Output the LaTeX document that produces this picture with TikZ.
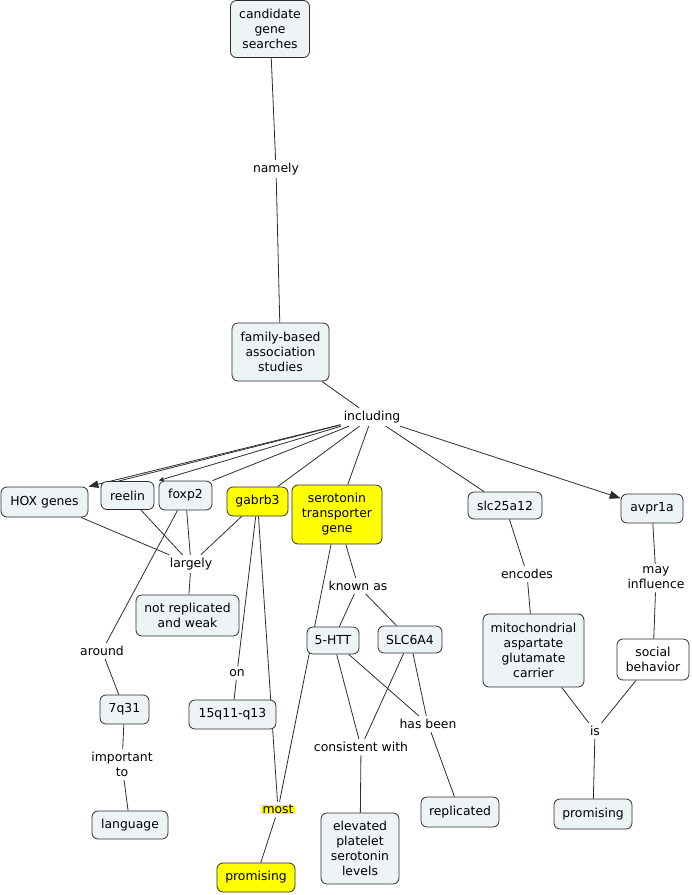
\documentclass[tikz,border=0pt]{standalone}
\usepackage{fontspec}
\setmainfont{DejaVu Sans}
\usetikzlibrary{arrows.meta,backgrounds}
\definecolor{cfill}{RGB}{238,243,246}
\definecolor{cline}{RGB}{45,45,45}
\definecolor{hyel}{RGB}{255,255,0}
\begin{document}
\begin{tikzpicture}[x=1pt,y=-1pt,
  concept/.style={draw=cline, rounded corners=6pt, fill=cfill, align=center,
    font=\fontsize{12.4}{15}\selectfont, inner sep=2pt, line width=0.8pt},
  hot/.style={concept, fill=hyel},
  plain/.style={concept, fill=white},
  lab/.style={align=center, font=\fontsize{12.4}{15}\selectfont, inner sep=3pt},
  conn/.style={draw=cline, line width=0.8pt},
  bigarrow/.style={-{Triangle[length=11pt,width=8pt]}},
  midarrow/.style={-{Triangle[length=10pt,width=7.5pt]}},
  smallarrow/.style={-{Triangle[length=5pt,width=4pt]}}]
\useasboundingbox (0,0) rectangle (692,895);
% concepts and linking phrases
\node[concept, minimum width=79, minimum height=57] (cgs) at (270,29) {candidate\\gene\\searches};
\node[lab] (namely) at (276,169) {namely};
\node[concept, minimum width=97, minimum height=58] (fba) at (280.5,352) {family-based\\association\\studies};
\node[lab] (incl) at (372,417) {including};
\node[concept, minimum width=87, minimum height=30] (hox) at (44.5,502) {HOX genes};
\node[concept, minimum width=53, minimum height=28] (reelin) at (127.5,495.5) {reelin};
\node[concept, minimum width=53, minimum height=29] (foxp2) at (185.5,495.5) {foxp2};
\node[hot, minimum width=61, minimum height=29] (gabrb3) at (257.5,501.5) {gabrb3};
\node[hot, minimum width=90, minimum height=59] (sero) at (337,514.5) {serotonin\\transporter\\gene};
\node[concept, minimum width=74, minimum height=27] (slc25) at (505,505.5) {slc25a12};
\node[concept, minimum width=62, minimum height=29] (avpr) at (652,508.5) {avpr1a};
\node[lab] (largely) at (191,564) {largely};
\node[concept, minimum width=103, minimum height=41] (notrep) at (187.5,615.5) {not replicated\\and weak};
\node[lab] (known) at (358,586) {known as};
\node[lab] (encodes) at (527,574) {encodes};
\node[lab] (mayinf) at (656,578) {may\\influence};
\node[concept, minimum width=52, minimum height=27] (htt) at (333,640.5) {5-HTT};
\node[concept, minimum width=64, minimum height=27] (slc6) at (410,639.5) {SLC6A4};
\node[concept, minimum width=101, minimum height=73] (mito) at (533.5,650.5) {mitochondrial\\aspartate\\glutamate\\carrier};
\node[plain, minimum width=72, minimum height=41] (social) at (653,659.5) {social\\behavior};
\node[lab] (around) at (102,651) {around};
\node[concept, minimum width=49, minimum height=29] (q31) at (124.5,709.5) {7q31};
\node[lab] (on) at (237,673) {on};
\node[concept, minimum width=87, minimum height=29] (q11) at (232.5,714.5) {15q11-q13};
\node[lab] (impto) at (122,764.5) {important\\to};
\node[concept, minimum width=76, minimum height=28] (lang) at (130,825) {language};
\node[fill=hyel, font=\fontsize{12.4}{15}\selectfont, inner xsep=2pt, inner ysep=0.5pt, outer sep=3pt] (most) at (278,809.5) {most};
\node[hot, minimum width=78, minimum height=29] (prom1) at (256,877.5) {promising};
\node[lab] (cons) at (361,747) {consistent with};
\node[lab] (hasbeen) at (428,724) {has been};
\node[concept, minimum width=78, minimum height=71] (elev) at (360,848.5) {elevated\\platelet\\serotonin\\levels};
\node[concept, minimum width=78, minimum height=30] (repl) at (460,812) {replicated};
\node[lab] (is) at (595,731) {is};
\node[concept, minimum width=78, minimum height=30] (prom2) at (593,814) {promising};
% connectors
\begin{scope}[on background layer]
\draw[conn] (cgs) -- (namely);
\draw[conn] (namely) -- (fba);
\draw[conn] (fba) -- (incl);
\draw[conn, midarrow] (incl) -- (hox.north east);
\draw[conn] (incl) -- ([xshift=-9pt]reelin.north);
\draw[conn, smallarrow] (incl) -- (foxp2.north west);
\draw[conn] (incl) -- (foxp2.north east);
\draw[conn] (incl) -- (gabrb3);
\draw[conn] (incl) -- (sero);
\draw[conn] (incl) -- (slc25);
\draw[conn, bigarrow] (incl) -- (avpr);
\draw[conn] (hox) -- (largely);
\draw[conn] (reelin) -- (largely);
\draw[conn] (foxp2) -- (largely);
\draw[conn] (gabrb3) -- (largely);
\draw[conn] (largely) -- (notrep);
\draw[conn] (foxp2) -- (around);
\draw[conn] (around) -- (q31);
\draw[conn] (q31) -- (impto);
\draw[conn] (impto) -- (lang);
\draw[conn] (gabrb3) -- (on);
\draw[conn] (on) -- (q11);
\draw[conn] (gabrb3) -- (most);
\draw[conn] (sero) -- (most);
\draw[conn] (most) -- (prom1);
\draw[conn] (sero) -- (known);
\draw[conn] (known) -- (htt);
\draw[conn] (known) -- (slc6);
\draw[conn] (htt) -- (cons);
\draw[conn] (slc6) -- (cons);
\draw[conn] (htt) -- (hasbeen);
\draw[conn] (slc6) -- (hasbeen);
\draw[conn] (hasbeen) -- (repl);
\draw[conn] (cons) -- (elev);
\draw[conn] (slc25) -- (encodes);
\draw[conn] (encodes) -- (mito);
\draw[conn] (avpr) -- (mayinf);
\draw[conn] (mayinf) -- (social);
\draw[conn] (mito) -- (is);
\draw[conn] (social) -- (is);
\draw[conn] (is) -- (prom2);
\end{scope}
\end{tikzpicture}
\end{document}
